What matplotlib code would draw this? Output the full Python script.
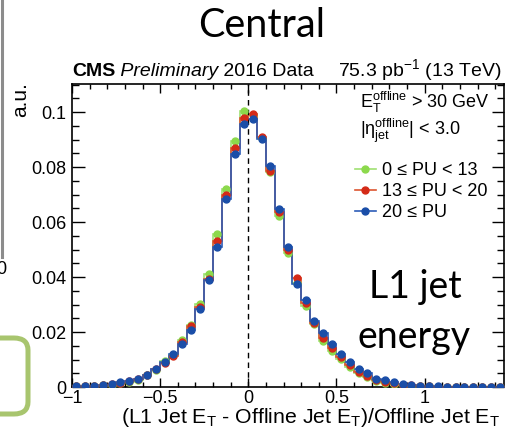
import numpy as np
import matplotlib
matplotlib.use("Agg")
import matplotlib.pyplot as plt
from matplotlib.lines import Line2D
from matplotlib.patches import FancyBboxPatch
from matplotlib.ticker import FixedLocator, FixedFormatter, MultipleLocator

plt.rcParams["font.family"] = ["Liberation Sans", "DejaVu Sans"]
plt.rcParams["mathtext.fontset"] = "custom"
plt.rcParams["mathtext.rm"] = "Liberation Sans"
plt.rcParams["mathtext.it"] = "Liberation Sans:italic"
plt.rcParams["mathtext.bf"] = "Liberation Sans:bold"

# ------------------------------
# data (bins of 0.05 from -1 to 1.45)
# ------------------------------
x_lo, x_hi, n_bins = -1.0, 1.45, 49

pu_low = [0.0002, 0.0003, 0.0004, 0.0006, 0.0009, 0.0014, 0.0020, 0.0027, 0.0042, 0.0062,
          0.0095, 0.0118, 0.0171, 0.0227, 0.0302, 0.0412, 0.0555, 0.0720, 0.0895, 0.1004,
          0.0988, 0.0905, 0.0782, 0.0623, 0.0486, 0.0378, 0.0295, 0.0229, 0.0168, 0.0132,
          0.0102, 0.0074, 0.0050, 0.0036, 0.0022, 0.0016, 0.0011, 0.0007, 0.0005, 0.0003,
          0.0002, 0.0001, 0.0001, 0.0001, 0.0000, 0.0000, 0.0000, 0.0000, 0.0000]
pu_mid = [0.0002, 0.0003, 0.0004, 0.0006, 0.0010, 0.0016, 0.0023, 0.0030, 0.0044, 0.0064,
          0.0088, 0.0114, 0.0165, 0.0222, 0.0292, 0.0393, 0.0532, 0.0698, 0.0868, 0.0979,
          0.0992, 0.0908, 0.0787, 0.0638, 0.0498, 0.0395, 0.0307, 0.0234, 0.0179, 0.0143,
          0.0110, 0.0080, 0.0055, 0.0040, 0.0025, 0.0019, 0.0013, 0.0009, 0.0006, 0.0004,
          0.0002, 0.0001, 0.0001, 0.0001, 0.0001, 0.0000, 0.0000, 0.0000, 0.0000]
pu_high = [0.0002, 0.0003, 0.0004, 0.0006, 0.0010, 0.0017, 0.0022, 0.0028, 0.0044, 0.0064,
           0.0090, 0.0120, 0.0156, 0.0207, 0.0284, 0.0388, 0.0509, 0.0684, 0.0846, 0.0958,
           0.0974, 0.0902, 0.0804, 0.0647, 0.0510, 0.0376, 0.0316, 0.0241, 0.0198, 0.0156,
           0.0120, 0.0092, 0.0064, 0.0050, 0.0030, 0.0025, 0.0018, 0.0012, 0.0008, 0.0005,
           0.0003, 0.0002, 0.0001, 0.0001, 0.0001, 0.0001, 0.0001, 0.0001, 0.0001]

labels = ["0 \u2264 PU < 13", "13 \u2264 PU < 20", "20 \u2264 PU"]
line_colors = ["#9fe072", "#dd5530", "#2c5cb8"]
dot_colors = ["#8cd94c", "#d42a18", "#1a4ea8"]

xticks = [-1, -0.5, 0, 0.5, 1]
xtick_labels = ["\u22121", "\u22120.5", "0", "0.5", "1"]
yticks = [0, 0.02, 0.04, 0.06, 0.08, 0.1]
ytick_labels = ["0", "0.02", "0.04", "0.06", "0.08", "0.1"]

edges = np.linspace(x_lo, x_hi, n_bins + 1)
centers = 0.5 * (edges[1:] + edges[:-1])

# ------------------------------
# figure
# ------------------------------
W, H = 505, 436
fig = plt.figure(figsize=(W / 100, H / 100), dpi=100)
ax = fig.add_axes([72 / W, 1 - 387 / H, 432 / W, 303 / H])

for vals, lc, dc in zip([pu_low, pu_mid, pu_high], line_colors, dot_colors):
    ax.stairs(vals, edges, color=lc, lw=1.2, baseline=None)
    ax.plot(centers, vals, "o", color=dc, ms=5, mec=dc, zorder=3)

ax.axvline(0, color="black", lw=1, ls=(0, (4, 3)))

ax.set_xlim(x_lo, x_hi)
ax.set_ylim(0, 0.1102)

ax.xaxis.set_major_locator(FixedLocator(xticks))
ax.xaxis.set_major_formatter(FixedFormatter(xtick_labels))
ax.xaxis.set_minor_locator(MultipleLocator(0.1))
ax.yaxis.set_major_locator(FixedLocator(yticks))
ax.yaxis.set_major_formatter(FixedFormatter(ytick_labels))
ax.yaxis.set_minor_locator(MultipleLocator(0.005))

ax.tick_params(which="both", direction="in", top=True, right=True, labelsize=13, width=1)
ax.tick_params(axis="x", which="major", length=6.5, pad=2.5)
ax.tick_params(axis="x", which="minor", length=3.3)
ax.tick_params(axis="y", which="major", length=9, pad=4)
ax.tick_params(axis="y", which="minor", length=5)
for s in ax.spines.values():
    s.set_linewidth(1.2)

# axis titles (ROOT style: right / top aligned)
fig.text(500 / W, 1 - 423 / H,
         r"(L1 Jet E$_{\mathrm{T}}$ - Offline Jet E$_{\mathrm{T}}$)/Offline Jet E$_{\mathrm{T}}$",
         fontsize=15.3, ha="right", va="baseline")
fig.text(21 / W, 1 - 82 / H, "a.u.", fontsize=15, rotation=90, ha="center", va="top")

handles = [Line2D([], [], color=lc, lw=1.2, marker="o", ms=5, mfc=dc, mec=dc)
           for lc, dc in zip(line_colors, dot_colors)]
ax.legend(handles, labels, loc="upper left", bbox_to_anchor=(355 / W, 1 - 162 / H),
          bbox_transform=fig.transFigure, frameon=False, fontsize=13, borderpad=0,
          borderaxespad=0, handlelength=1.15, handletextpad=0.35, labelspacing=0.22)

fig.text(360 / W, 1 - 108 / H, r"$\mathrm{E}_{\mathrm{T}}^{\mathrm{offline}}$ > 30 GeV",
         fontsize=13, va="baseline")
fig.text(360 / W, 1 - 135 / H, r"$|\mathrm{\eta}_{\mathrm{jet}}^{\mathrm{offline}}|$ < 3.0",
         fontsize=13, va="baseline")

# header
fig.canvas.draw()
rend = fig.canvas.get_renderer()
x_px = 72
for txt, kw in [("CMS", dict(weight="bold")), (" Preliminary", dict(style="italic")),
                (" 2016 Data", {})]:
    t = fig.text(x_px / W, 1 - 76 / H, txt, fontsize=14, va="baseline", **kw)
    x_px = t.get_window_extent(rend).x1
fig.text(501 / W, 1 - 76 / H, r"75.3 pb$^{-1}$ (13 TeV)", fontsize=14, ha="right", va="baseline")

fig.text(262 / W, 1 - 37 / H, "Central", fontsize=28.5, family="Lato", ha="center", va="baseline")
fig.text(415 / W, 1 - 298 / H, "L1 jet", fontsize=27, family="Lato", ha="center", va="baseline")
fig.text(414 / W, 1 - 348 / H, "energy", fontsize=27, family="Lato", ha="center", va="baseline")

# pieces of the neighbouring slide content at the left edge
fig.add_artist(Line2D([1.5 / W, 1.5 / W], [1, 1 - 257 / H], transform=fig.transFigure,
                      color="#8c8c8c", lw=2.2))
fig.text(6 / W, 1 - 269 / H, "0", fontsize=13, ha="right", va="center")
fig.add_artist(FancyBboxPatch((-20 / W, 1 - 414 / H), 48 / W, 76 / H,
                              boxstyle="round,pad=0,rounding_size=0.028",
                              transform=fig.transFigure, fc="white", ec="#a8c56e", lw=3.6))

fig.savefig("out.png", dpi=100)
